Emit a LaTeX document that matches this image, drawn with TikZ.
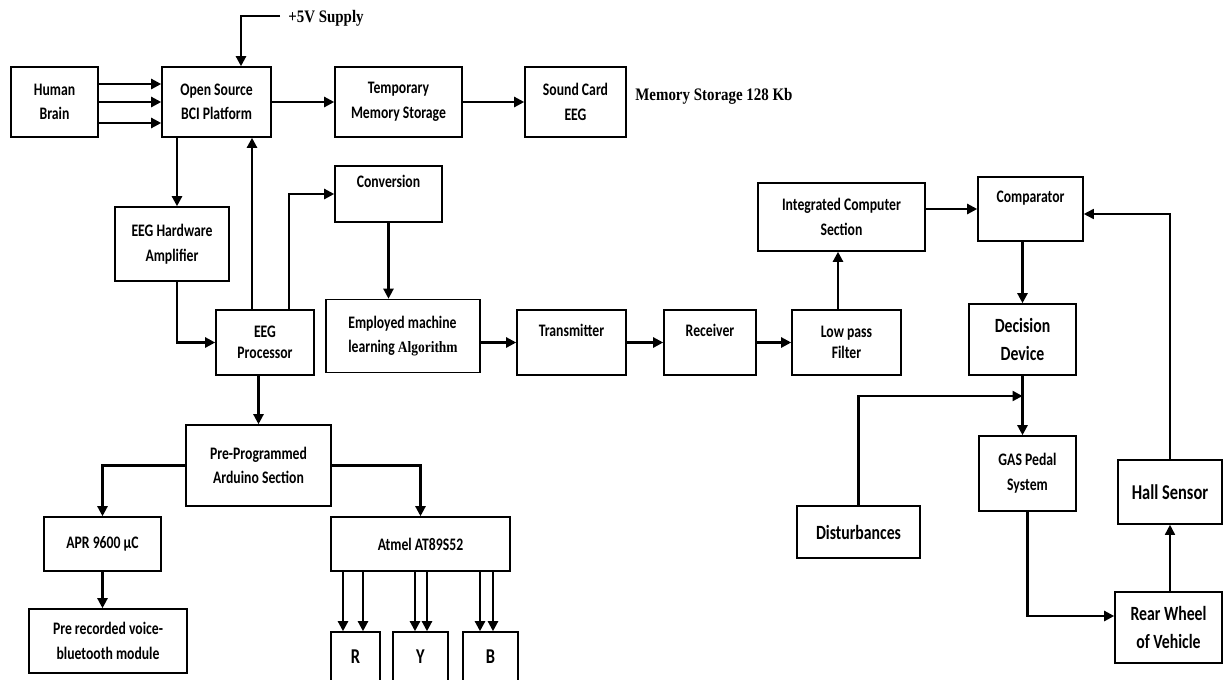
\documentclass[tikz,border=0pt]{standalone}
\usepackage{fontspec}
\usepackage{tikz}
\usetikzlibrary{arrows.meta,positioning}
\newfontfamily\boxfont{Carlito}[FakeStretch=0.78]
\newfontfamily\serifbf{Liberation Serif}[FakeStretch=0.85]

\tikzset{
  blk/.style={draw,line width=0.9pt,align=center,inner sep=1pt,font=\boxfont\bfseries\fontsize{10}{14}\selectfont},
  bigblk/.style={blk,font=\boxfont\bfseries\fontsize{11.5}{16}\selectfont},
  flow/.style={-{Triangle[length=2mm,width=2mm]},line width=1.3pt},
  note/.style={font=\serifbf\bfseries\fontsize{10}{12}\selectfont,inner sep=0pt},
}

\begin{document}
\begin{tikzpicture}[x=0.02cm,y=-0.02cm]
  \useasboundingbox (0,0) rectangle (1225,680);
  \clip (0,0) rectangle (1225,680);

  % top row
  \node[blk,minimum width=1.74cm,minimum height=1.4cm] (brain) at (54.5,102) {Human\\Brain};
  \node[blk,minimum width=2.18cm,minimum height=1.4cm] (bci) at (216.5,102) {Open Source\\BCI Platform};
  \node[blk,minimum width=2.54cm,minimum height=1.4cm] (tmem) at (398.5,102) {Temporary\\Memory Storage};
  \node[blk,minimum width=2.02cm,minimum height=1.4cm] (sndcard) at (575.5,102) {Sound Card\\EEG};
  \node[note,anchor=west] (memtxt) at (635,96) {Memory Storage 128 Kb};
  \node[note,anchor=west] (supply) at (288,18) {+5V Supply};
  \coordinate (supin) at (280,16);

  % EEG chain
  \node[blk,minimum width=2.28cm,minimum height=1.48cm] (amp) at (172,244) {EEG Hardware\\Amplifier};
  \node[blk,minimum width=1.96cm,minimum height=1.3cm] (eegproc) at (265,342.5) {EEG\\[-2pt]Processor};
  \node[blk,minimum width=2.14cm,minimum height=1.12cm] (conv) at (388.5,194) {Conversion\\\mbox{}};
  \node[blk,align=left,minimum width=3.08cm,minimum height=1.46cm] (mlalg) at (403,336) {Employed machine\\learning {\serifbf\fontsize{9}{12}\selectfont Algorithm}};
  \node[blk,minimum width=2.18cm,minimum height=1.3cm] (tx) at (571.5,342.5) {Transmitter\\\mbox{}};
  \node[blk,minimum width=1.84cm,minimum height=1.3cm] (rx) at (710,342.5) {Receiver\\\mbox{}};
  \node[blk,minimum width=2.18cm,minimum height=1.3cm] (lpf) at (846.5,342.5) {Low pass\\[-2pt]Filter};
  \node[blk,minimum width=3.34cm,minimum height=1.36cm] (ics) at (841.5,217) {Integrated Computer\\Section};

  % control loop
  \node[blk,minimum width=2.1cm,minimum height=1.28cm] (comp) at (1030.5,209) {Comparator\\\mbox{}};
  \node[bigblk,minimum width=2.14cm,minimum height=1.42cm] (decide) at (1022.5,339.5) {Decision\\Device};
  \node[blk,minimum width=1.94cm,minimum height=1.5cm] (gas) at (1027.5,473.5) {GAS Pedal\\System};
  \node[bigblk,minimum width=2.46cm,minimum height=1.04cm] (dist) at (858.5,532) {Disturbances};
  \node[bigblk,font=\boxfont\bfseries\fontsize{12}{16}\selectfont,minimum width=2.08cm,minimum height=1.28cm] (hall) at (1170,492) {Hall Sensor};
  \node[bigblk,minimum width=2.14cm,minimum height=1.42cm] (wheel) at (1168.5,627.5) {Rear Wheel\\of Vehicle};
  \coordinate (distjoin) at (1022.5,396);

  % arduino section
  \node[blk,minimum width=2.9cm,minimum height=1.62cm] (ardu) at (258.5,465.5) {Pre-Programmed\\Arduino Section};
  \node[blk,minimum width=2.34cm,minimum height=1.08cm] (apr) at (102.5,544) {APR 9600 µC};
  \node[blk,minimum width=3.16cm,minimum height=1.28cm] (voice) at (108,641) {Pre recorded voice-\\bluetooth module};
  \node[blk,minimum width=3.58cm,minimum height=1.08cm] (atmel) at (420.5,544) {Atmel AT89S52};
  \node[bigblk,font=\boxfont\bfseries\fontsize{12}{16}\selectfont,minimum width=0.98cm,minimum height=1.0cm] (ledr) at (355.5,657) {R};
  \node[bigblk,font=\boxfont\bfseries\fontsize{12}{16}\selectfont,minimum width=1.1cm,minimum height=1.0cm] (ledy) at (420.5,657) {Y};
  \node[bigblk,font=\boxfont\bfseries\fontsize{12}{16}\selectfont,minimum width=1.1cm,minimum height=1.0cm] (ledb) at (490.5,657) {B};

  % connectors
  \foreach \dy in {0.36,0,-0.42}
    \draw[flow] ([yshift=\dy cm]brain.east) -- ([yshift=\dy cm]bci.west);
  \draw[flow] (supin) -| ([xshift=0.49cm]bci.north);
  \draw[flow] (bci) -- (tmem);
  \draw[flow] (tmem) -- (sndcard);
  \draw[flow] ([xshift=-0.79cm]bci.south) -- ([xshift=-0.79cm]bci.south |- amp.north);
  \draw[flow] ([xshift=0.1cm]amp.south) |- (eegproc.west);
  \draw[flow] ([xshift=-0.26cm]eegproc.north) -- ([xshift=-0.26cm]eegproc.north |- bci.south);
  \draw[flow] ([xshift=0.48cm]eegproc.north) |- (conv.west);
  \draw[flow] (conv.south) -- (conv.south |- mlalg.north);
  \draw[flow] (mlalg.east |- tx) -- (tx.west);
  \draw[flow] (tx) -- (rx);
  \draw[flow] (rx) -- (lpf);
  \draw[flow] ([xshift=-0.17cm]lpf.north) -- ([xshift=-0.17cm]lpf.north |- ics.south);
  \draw[flow] (ics.east |- comp) -- (comp.west);
  \draw[flow] (decide.north |- comp.south) -- (decide.north);
  \draw[flow] (decide.south) -- (decide.south |- gas.north);
  \draw[flow] (dist.north) |- (distjoin);
  \draw[flow] (gas.south) |- ([yshift=0.23cm]wheel.west);
  \draw[flow,line width=0.9pt] (wheel.north -| hall) -- (hall.south);
  \draw[flow,line width=0.9pt] (hall.north) |- ([yshift=-0.1cm]comp.east);
  \draw[flow] (ardu.north |- eegproc.south) -- (ardu.north);
  \draw[flow] (ardu.west) -| (apr.north);
  \draw[flow] (ardu.east) -| (atmel.north);
  \draw[flow] (apr.south) -- (apr.south |- voice.north);
  \foreach \led/\dx in {ledr/-0.25,ledr/0.15,ledy/-0.11,ledy/0.13,ledb/-0.21,ledb/0.05}
    \draw[flow] ([xshift=\dx cm]\led.north |- atmel.south) -- ([xshift=\dx cm]\led.north);
\end{tikzpicture}
\end{document}
